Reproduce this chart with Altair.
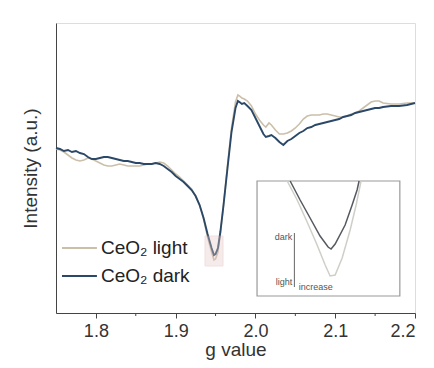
import altair as alt
import pandas as pd

# ---- data (g value, intensity in arbitrary units) ----
g_main = [1.750, 1.755, 1.760, 1.765, 1.770, 1.775, 1.780, 1.785, 1.790, 1.795,
          1.800, 1.805, 1.810, 1.815, 1.820, 1.825, 1.830, 1.835, 1.840, 1.845,
          1.850, 1.855, 1.860, 1.865, 1.870, 1.875, 1.880, 1.885, 1.890, 1.895,
          1.900, 1.905, 1.910, 1.915, 1.920, 1.925, 1.930, 1.935, 1.940, 1.945,
          1.948, 1.950, 1.953, 1.956, 1.960, 1.965, 1.970, 1.975, 1.978, 1.980,
          1.983, 1.986, 1.990, 1.995, 2.000, 2.005, 2.010, 2.013, 2.017, 2.020,
          2.025, 2.030, 2.035, 2.040, 2.045, 2.050, 2.055, 2.060, 2.065, 2.070,
          2.075, 2.080, 2.085, 2.090, 2.095, 2.100, 2.105, 2.110, 2.115, 2.120,
          2.125, 2.130, 2.135, 2.140, 2.145, 2.150, 2.155, 2.160, 2.170, 2.180,
          2.190, 2.200]

dark_vals = [165, 164, 162, 163, 161, 162, 160, 159, 156, 154,
             154, 155, 156, 156, 155, 154, 153, 152, 152, 151,
             150, 150, 149, 149, 149, 150, 149, 147, 144, 141,
             137, 134, 131, 127, 123, 117, 108, 95, 79, 65,
             58, 59, 65, 81, 108, 145, 181, 205, 212, 211,
             209, 210, 207, 203, 195, 187, 179, 176, 177, 178,
             175, 171, 168, 172, 174, 177, 180, 182, 185, 186,
             188, 189, 190, 191, 192, 193, 194, 196, 197, 198,
             200, 201, 202, 203, 204, 205, 205, 206, 207, 207,
             208, 210]

light_vals = [164, 163, 161, 158, 155, 153, 152, 153, 155, 154,
              152, 150, 148, 147, 147, 148, 149, 148, 147, 147,
              147, 147, 148, 149, 149, 150, 151, 150, 147, 143,
              139, 136, 132, 128, 124, 117, 108, 94, 76, 61,
              53, 54, 61, 79, 108, 148, 185, 211, 218, 217,
              215, 214, 212, 207, 199, 193, 188, 186, 190, 188,
              183, 179, 179, 180, 182, 185, 189, 194, 197, 198,
              198, 198, 199, 199, 198, 197, 196, 196, 197, 199,
              200, 202, 205, 208, 211, 212, 212, 210, 209, 209,
              210, 210]

series_names = ["CeO\u2082 light", "CeO\u2082 dark"]
series_colors = ["#cbbfa9", "#2b4868"]

x_ticks = [1.8, 1.9, 2.0, 2.1, 2.2]
minor_ticks = [1.85, 1.95, 2.05, 2.15]

# inset (zoomed view of the minimum)
inset_box = [2.002, 2.181, 17, 132]
inset_dark_g = [2.0435, 2.0560, 2.0685, 2.0810, 2.0911, 2.0948, 2.0999, 2.1124, 2.1212, 2.1274, 2.1299]
inset_dark_v = [132, 113, 95, 77, 66, 64, 69, 88, 108, 123, 132]
inset_light_g = [2.0398, 2.0523, 2.0648, 2.0773, 2.0874, 2.0936, 2.0999, 2.1087, 2.1187, 2.1262, 2.1324]
inset_light_v = [132, 113, 91, 68, 48, 37, 38, 55, 83, 108, 132]
inset_text = ["dark", "light", "increase"]
inset_text_g = [2.0460, 2.0460, 2.0543]
inset_text_v = [76, 31, 26]

zoom_box = [1.9368, 1.9593, 47, 77]

# ---- tables ----
main_df = pd.DataFrame({
    "g": g_main * 2,
    "v": light_vals + dark_vals,
    "s": [series_names[0]] * len(g_main) + [series_names[1]] * len(g_main),
})

x_scale = alt.Scale(domain=[1.75, 2.2], nice=False, zero=False)
y_scale = alt.Scale(domain=[0, 290], nice=False, zero=False)

X = lambda f="g": alt.X(f + ":Q", scale=x_scale,
                       axis=alt.Axis(values=x_ticks, format=".1f", title="g value",
                                     grid=False, tickSize=5, labelFontSize=18,
                                     titleFontSize=19, labelColor="#333",
                                     titleColor="#333", domainColor="#444",
                                     tickColor="#444", labelPadding=4,
                                     titlePadding=0, labelFont="Liberation Sans",
                                     titleFont="Liberation Sans",
                                     titleFontWeight="normal"))
Y = lambda f="v": alt.Y(f + ":Q", scale=y_scale,
                       axis=alt.Axis(title="Intensity (a.u.)", labels=False, ticks=False,
                                     grid=False, titleFontSize=19, titleColor="#333",
                                     domainColor="#444", titlePadding=16,
                                     titleFont="Liberation Sans",
                                     titleFontWeight="normal"))

base = alt.Chart(main_df)

light_line = base.transform_filter(alt.datum.s == series_names[0]).mark_line(
    color=series_colors[0], strokeWidth=1.6).encode(x=X(), y=Y())
dark_line = base.transform_filter(alt.datum.s == series_names[1]).mark_line(
    color=series_colors[1], strokeWidth=1.9).encode(x=X(), y=Y())

zoom_df = pd.DataFrame({"x1": [zoom_box[0]], "x2": [zoom_box[1]],
                        "y1": [zoom_box[2]], "y2": [zoom_box[3]]})
zoom_rect = alt.Chart(zoom_df).mark_rect(fill="#e8c8c8", opacity=0.35,
                                         stroke="#d9a9a9", strokeWidth=1).encode(
    x=X("x1"), x2="x2", y=Y("y1"), y2="y2")

minor_df = pd.DataFrame({"g": minor_ticks})
minor = alt.Chart(minor_df).mark_rule(color="#444", strokeWidth=1).encode(
    x=X(), y=alt.value(290), y2=alt.value(293))

# legend
leg_df = pd.DataFrame({"x1": [1.7575, 1.7575], "x2": [1.8013, 1.8013],
                       "v": [65, 37], "s": series_names})
leg_lines = alt.Chart(leg_df).mark_rule(strokeWidth=2).encode(
    x=X("x1"), x2="x2", y=Y(),
    color=alt.Color("s:N", scale=alt.Scale(domain=series_names, range=series_colors),
                    legend=None))
leg_text = alt.Chart(leg_df).mark_text(align="left", baseline="middle", dx=4,
                                       fontSize=19, color="#222",
                                       font="Liberation Sans").encode(
    x=X("x2"), y=Y(), text="s:N")

# inset
box_df = pd.DataFrame({"x1": [inset_box[0]], "x2": [inset_box[1]],
                       "y1": [inset_box[2]], "y2": [inset_box[3]]})
inset_rect = alt.Chart(box_df).mark_rect(fill="white", stroke="#999",
                                         strokeWidth=1.2).encode(
    x=X("x1"), x2="x2", y=Y("y1"), y2="y2")
inset_light = alt.Chart(pd.DataFrame({"g": inset_light_g, "v": inset_light_v})).mark_line(
    color="#cfcfc8", strokeWidth=1.5).encode(x=X(), y=Y())
inset_dark = alt.Chart(pd.DataFrame({"g": inset_dark_g, "v": inset_dark_v})).mark_line(
    color="#555a60", strokeWidth=1.5).encode(x=X(), y=Y())
arrow_df = pd.DataFrame({"g": [2.0488], "v1": [26], "v2": [80]})
inset_arrow = alt.Chart(arrow_df).mark_rule(color="#666", strokeWidth=1).encode(
    x=X(), y=Y("v1"), y2="v2")
itext_df = pd.DataFrame({"g": inset_text_g, "v": inset_text_v, "t": inset_text})
inset_t1 = alt.Chart(itext_df.iloc[:2]).mark_text(align="right", baseline="middle",
                                                  fontSize=9, color="#555",
                                                  font="Liberation Sans").encode(
    x=X(), y=Y(), text="t:N")
inset_t2 = alt.Chart(itext_df.iloc[2:]).mark_text(align="left", baseline="middle",
                                                  fontSize=9, color="#555",
                                                  font="Liberation Sans").encode(
    x=X(), y=Y(), text="t:N")

chart = alt.layer(
    minor, light_line, dark_line, zoom_rect, leg_lines, leg_text,
    inset_rect, inset_light, inset_dark, inset_arrow, inset_t1, inset_t2
).properties(
    width=359, height=290,
    autosize=alt.AutoSizeParams(type="none"),
    padding={"left": 48, "top": 15, "right": 11, "bottom": 47},
).configure_view(stroke="#777", strokeWidth=1.2).configure(background="white")

chart.save("out.html", embed_options={"renderer": "svg", "actions": False})
